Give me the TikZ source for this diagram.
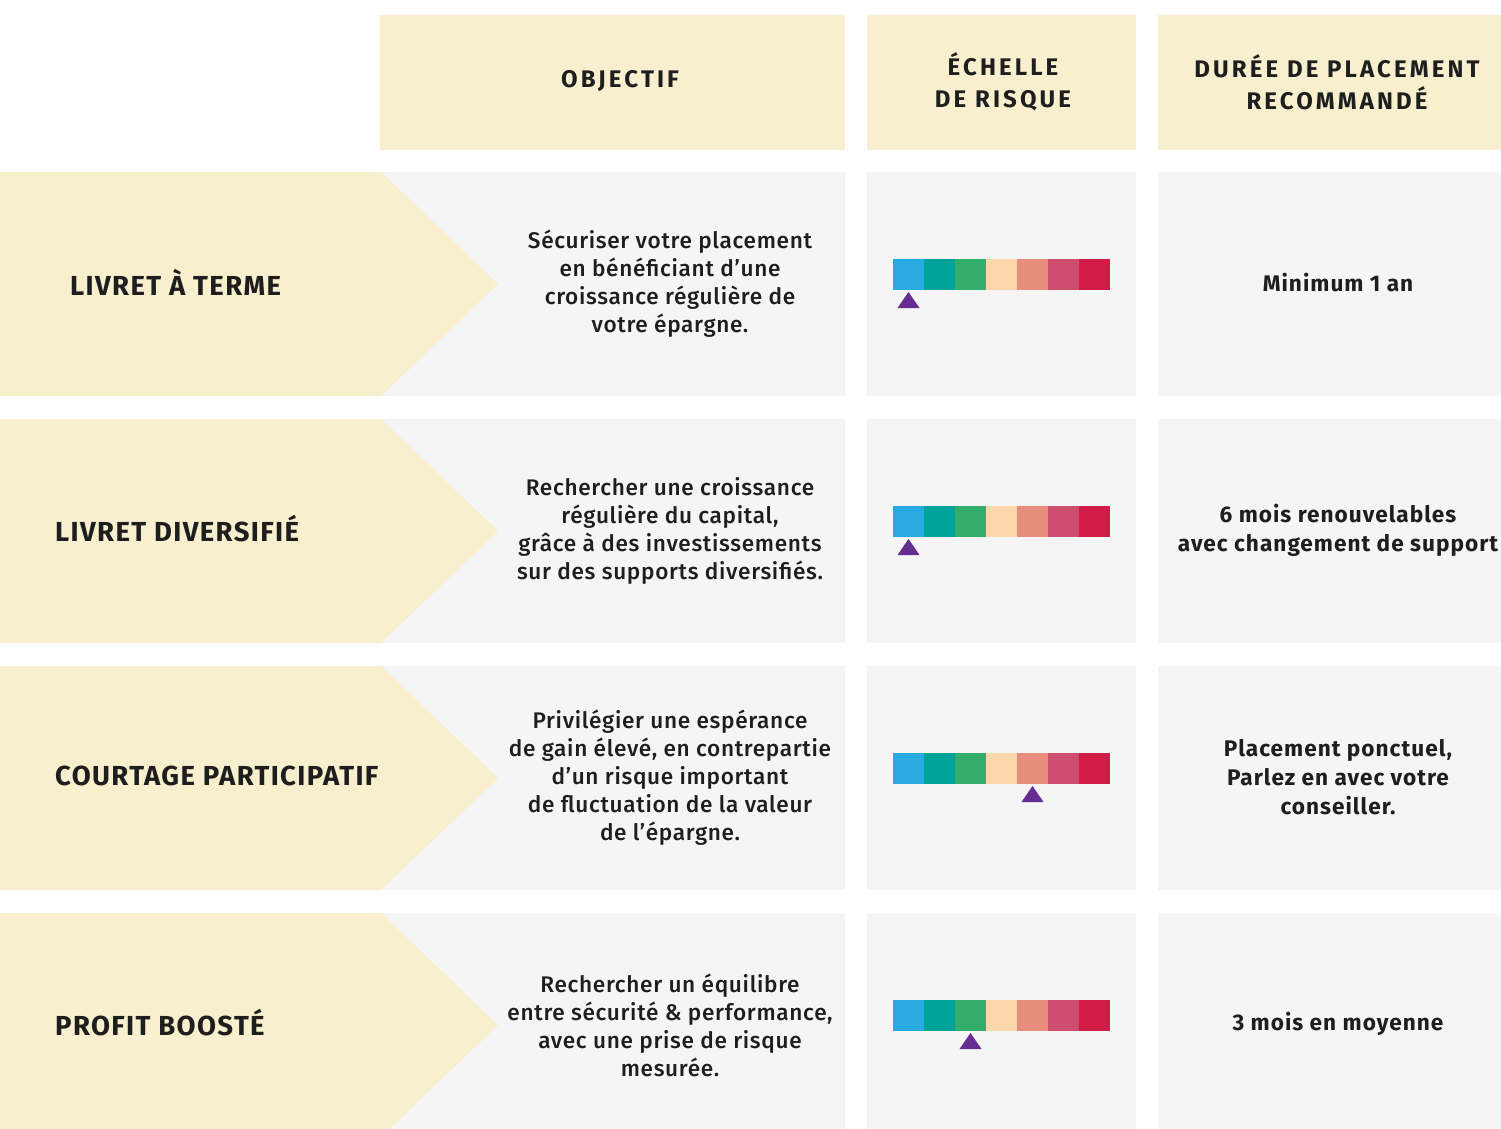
\documentclass[tikz,border=0pt]{standalone}
\usepackage{fontspec}
\setmainfont{Fira Sans}
\newfontfamily\medfont{Fira Sans Medium}
\definecolor{cream}{HTML}{F7EFCD}
\definecolor{cellgray}{HTML}{F5F5F5}
\definecolor{txt}{HTML}{1E1E1E}
\definecolor{rk1}{HTML}{29ABE2}
\definecolor{rk2}{HTML}{00A39A}
\definecolor{rk3}{HTML}{32AD6A}
\definecolor{rk4}{HTML}{FDD6AB}
\definecolor{rk5}{HTML}{E88E7C}
\definecolor{rk6}{HTML}{CC4D6E}
\definecolor{rk7}{HTML}{D21C48}
\definecolor{markpurple}{HTML}{662D91}
\tikzset{
  headbox/.style={fill=cream, inner sep=0pt, minimum height=135pt},
  headtxt/.style={align=center, text=txt, inner sep=0pt,
    font=\bfseries\fontsize{24}{32}\selectfont\addfontfeature{LetterSpace=13}},
  lbl/.style={anchor=west, text=txt, inner sep=0pt,
    font=\bfseries\fontsize{27.5}{30}\selectfont\addfontfeature{LetterSpace=5}},
  objtxt/.style={align=center, text=txt, inner sep=0pt,
    font=\medfont\fontsize{22.6}{28}\selectfont\addfontfeature{LetterSpace=3}},
  durtxt/.style={align=center, text=txt, inner sep=0pt,
    font=\bfseries\fontsize{22.6}{29}\selectfont\addfontfeature{LetterSpace=4.5}}
}
\begin{document}
\begin{tikzpicture}[x=1pt, y=-1pt]
\def \rowh {224}
\def \rowsep {247}
\def \seg {31}
\useasboundingbox[fill=white] (0,0) rectangle (1501,1129);
\clip (0,0) rectangle (1501,1129);

% header
\node[headbox, minimum width=465pt] (hobj) at (612.5,82.5) {};
\node[headbox, minimum width=269pt] (hrisk) at (1001.5,82.5) {};
\node[headbox, minimum width=343pt] (hdur) at (1329.5,82.5) {};
\node[headtxt] (hobjtxt) at (620,81) {OBJECTIF};
\node[headtxt] (hrisktxt) at (1003,82) {ÉCHELLE\\DE RISQUE};
\node[headtxt] (hdurtxt) at (1337,82) {DURÉE DE PLACEMENT\\RECOMMANDÉ};

% rows
\foreach \i/\lx/\lab/\obj/\r/\dur in {
  1/70/{LIVRET À TERME}/{Sécuriser votre placement\\en bénéficiant d’une\\croissance régulière de\\votre épargne.}/0/{Minimum 1 an},
  2/55/{LIVRET DIVERSIFIÉ}/{Rechercher une croissance\\régulière du capital,\\grâce à des investissements\\sur des supports diversifiés.}/0/{6 mois renouvelables\\avec changement de support},
  3/55/{COURTAGE PARTICIPATIF}/{Privilégier une espérance\\de gain élevé, en contrepartie\\d’un risque important\\de fluctuation de la valeur\\de l’épargne.}/4/{Placement ponctuel,\\Parlez en avec votre\\conseiller.},
  4/55/{PROFIT BOOSTÉ}/{Rechercher un équilibre\\entre sécurité \& performance,\\avec une prise de risque\\mesurée.}/2/{3 mois en moyenne}}
{
  \pgfmathsetmacro \top {172+(\i-1)*\rowsep}
  \fill[cellgray] (380,\top) rectangle ++(465,\rowh);
  \fill[cellgray] (867,\top) rectangle ++(269,\rowh);
  \fill[cellgray] (1158,\top) rectangle ++(343,\rowh);
  \fill[cream] (0,\top) -- (381,\top) -- (498,\top+112) -- (381,\top+\rowh) -- (0,\top+\rowh) -- cycle;
  \node[lbl] (lab\i) at (\lx,\top+110) {\lab};
  \node[objtxt] (obj\i) at (670,\top+112) {\obj};
  \node[durtxt] (dur\i) at (1338,\top+111) {\dur};
  \foreach \c [count=\k from 0] in {rk1,rk2,rk3,rk4,rk5,rk6,rk7}
    \fill[\c] (893+\k*\seg,\top+87) rectangle ++(\seg,31);
  \fill[markpurple] (897.5+\r*\seg,\top+136) -- ++(22,0) -- ++(-11,-16) -- cycle;
}
\end{tikzpicture}
\end{document}
